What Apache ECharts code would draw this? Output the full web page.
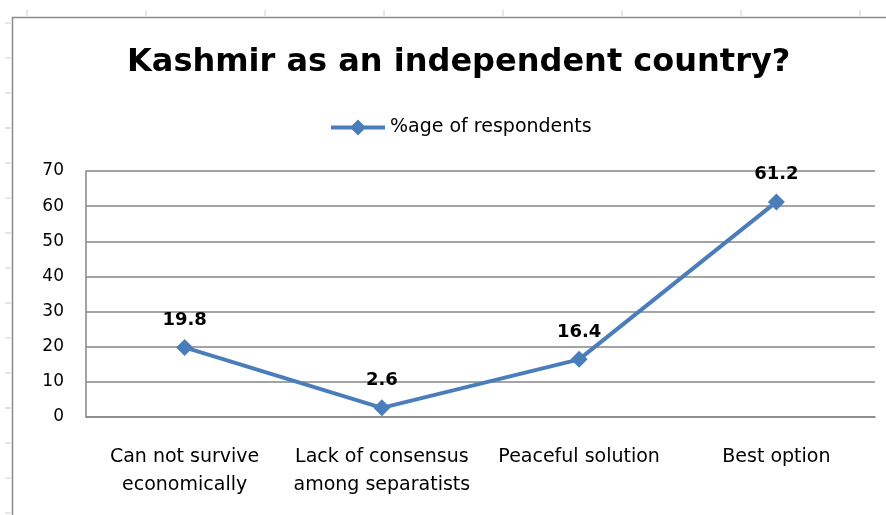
<!DOCTYPE html>
<html lang="en">
<head>
    <meta charset="UTF-8">
    <title>Kashmir as an independent country?</title>
    <script src="https://cdn.jsdelivr.net/npm/echarts@6/dist/echarts.min.js"></script>
    <style>
        html, body { margin: 0; padding: 0; background: #fff; }
    </style>
</head>
<body>
<div id="main" style="width: 886px; height: 515px;"></div>
</body>
<script>
    // data
    var categories = ['Can not survive\neconomically', 'Lack of consensus\namong separatists', 'Peaceful solution', 'Best option']
    var respondents = [19.8, 2.6, 16.4, 61.2]
    var seriesName = '%age of respondents'

    var font = '"DejaVu Sans", sans-serif'

    // faint spreadsheet cell marks round the chart
    var deco = []
    for (var x = 27; x < 886; x += 119) {
        deco.push({ type: 'line', shape: { x1: x, y1: 10, x2: x, y2: 16 }, style: { stroke: '#c8d0dc', lineWidth: 1 }, silent: true })
    }
    for (var y = 23; y < 515; y += 35) {
        deco.push({ type: 'line', shape: { x1: 5, y1: y, x2: 11, y2: y }, style: { stroke: '#c8d0dc', lineWidth: 1 }, silent: true })
    }
    // chart border
    deco.push({ type: 'polyline', shape: { points: [[12.5, 520], [12.5, 17.5], [890, 17.5]] }, style: { stroke: '#8a8a8a', lineWidth: 1.5, fill: null }, silent: true })

    var myChart = echarts.init(document.getElementById('main'))
    var option = {
        backgroundColor: '#fff',
        animation: false,
        graphic: deco,
        title: {
            text: 'Kashmir as an independent country?',
            left: 122,
            top: 42,
            textStyle: { fontFamily: font, fontSize: 32, fontWeight: 'bold', color: '#000' }
        },
        legend: {
            top: 113,
            left: 324,
            itemWidth: 54,
            itemHeight: 20,
            itemGap: 3,
            lineStyle: { width: 4 },
            textStyle: { fontFamily: font, fontSize: 19, color: '#000' },
            data: [seriesName]
        },
        grid: { left: 86, right: 11, top: 171, bottom: 98 },
        xAxis: {
            type: 'category',
            data: categories,
            axisLine: { lineStyle: { color: '#868686', width: 1.5 } },
            axisTick: { show: false },
            axisLabel: { interval: 0, color: '#000', fontFamily: font, fontSize: 19, lineHeight: 28, margin: 26 }
        },
        yAxis: {
            type: 'value',
            min: 0,
            max: 70,
            interval: 10,
            axisLine: { show: true, lineStyle: { color: '#868686', width: 1.5 } },
            axisTick: { show: false },
            axisLabel: { color: '#000', fontFamily: font, fontSize: 17, margin: 22 },
            splitLine: { lineStyle: { color: '#868686', width: 1.5 } }
        },
        series: [
            {
                name: seriesName,
                type: 'line',
                data: respondents,
                symbol: 'diamond',
                symbolSize: 17,
                color: '#4a7ebb',
                lineStyle: { width: 4, color: '#4a7ebb' },
                itemStyle: { color: '#4a7ebb' },
                label: {
                    show: true,
                    position: 'top',
                    distance: 10,
                    fontFamily: font,
                    fontSize: 18,
                    fontWeight: 'bold',
                    color: '#000'
                }
            }
        ]
    }
    myChart.setOption(option)
</script>
</html>
